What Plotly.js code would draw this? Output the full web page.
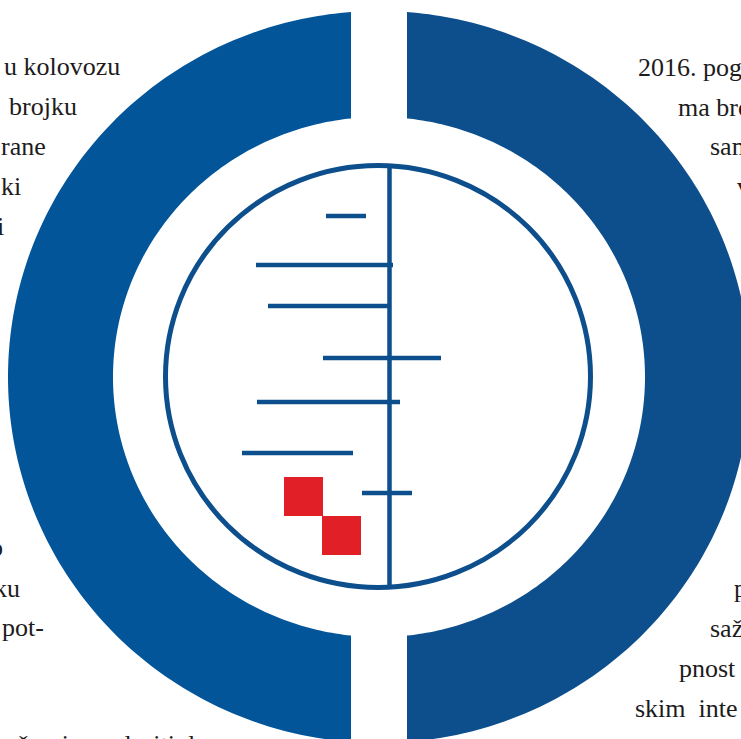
<!DOCTYPE html>
<html>
<head>
<meta charset="utf-8">
<script src="https://cdn.plot.ly/plotly-3.0.1.min.js"></script>
<style>html,body{margin:0;padding:0;background:#fff;overflow:hidden}</style>
</head>
<body>
<div id="chart" style="width:741px;height:739px"></div>
<script>
// Forest-plot rows (confidence-interval lines)
const studyRow = [216, 265, 306, 358, 402, 453, 493];
const ciLower  = [326, 256, 268, 323, 257, 242, 362];
const ciUpper  = [366, 393, 388, 441, 400, 353, 412];
// Line of no effect
const noEffectX = [389.5, 389.5];
const noEffectY = [168, 585];
// Pooled estimates (red squares)
const pooledX = [303.5, 341.5];
const pooledY = [496.5, 535.5];

// Background text fragments
const leftText   = ["u kolovozu", "brojku", "rane", "ki", "i", "o", "ku", "pot-"];
const leftEnd    = [121, 78, 47, 22, 5, 4, 21, 45];
const leftBase   = [75, 115, 155, 195, 235, 556, 597, 636];
const rightText  = ["2016. pogled", "ma broj", "sam", "vi", "p", "saž", "pnost", "skim  inte"];
const rightStart = [637, 677, 709, 736, 733, 709, 678, 634];
const rightBase  = [76, 116, 155, 195, 597, 637, 677, 717];
const bottomText = ["važno je naglasiti da"];
const bottomBase = [753.5];

const BLUE = "#0d4f8c";
const BLUE_L = "#03559a";
const RED = "#e01f26";

// CI line trace
const cx = [], cy = [];
for (let i = 0; i < studyRow.length; i++) {
  cx.push(ciLower[i], ciUpper[i], null);
  cy.push(studyRow[i], studyRow[i], null);
}
const traces = [
  {x: noEffectX, y: noEffectY, mode: "lines", line: {color: BLUE, width: 4.5}, hoverinfo: "skip"},
  {x: cx, y: cy, mode: "lines", line: {color: BLUE, width: 4.5}, hoverinfo: "skip", connectgaps: false},
  {x: pooledX, y: pooledY, mode: "markers", marker: {symbol: "square", size: 39, color: RED, line: {width: 0}}, hoverinfo: "skip"}
];

// Ring geometry (decorative)
const C = {x: 379, y: 377, Rx: 371, Ry: 366, rx: 266, ry: 260};
function halfRing(cut, left) {
  const N = 200;
  const pts = [];
  const t0 = Math.acos((cut - C.x) / C.Rx);
  const t1 = Math.acos((cut - C.x) / C.rx);
  let a0, a1, b0, b1;
  if (left) { a0 = t0; a1 = 2*Math.PI - t0; b0 = 2*Math.PI - t1; b1 = t1; }
  else { a0 = t0; a1 = -t0; b0 = -t1; b1 = t1; }
  for (let i = 0; i <= N; i++) {
    const t = a0 + (a1 - a0) * i / N;
    pts.push([C.x + C.Rx*Math.cos(t), C.y - C.Ry*Math.sin(t)]);
  }
  for (let i = 0; i <= N; i++) {
    const t = b0 + (b1 - b0) * i / N;
    pts.push([C.x + C.rx*Math.cos(t), C.y - C.ry*Math.sin(t)]);
  }
  return "M" + pts.map(p => p[0].toFixed(2) + "," + p[1].toFixed(2)).join(" L") + " Z";
}

const shapes = [
  {type: "path", xref: "x", yref: "y", path: halfRing(351, true), fillcolor: BLUE_L, line: {width: 0}, layer: "below"},
  {type: "path", xref: "x", yref: "y", path: halfRing(407, false), fillcolor: BLUE, line: {width: 0}, layer: "below"},
  {type: "circle", xref: "x", yref: "y", x0: 165.5, x1: 590.5, y0: 165.5, y1: 587.5, line: {color: BLUE, width: 5}, fillcolor: "rgba(0,0,0,0)", layer: "below"}
];

const FS = 26;
const font = {family: "Liberation Serif, DejaVu Serif, serif", size: FS, color: "#1d1b1c"};
const ann = [];
const off = 0.33 * FS;
leftText.forEach((t, i) => ann.push({x: leftEnd[i], y: leftBase[i] - off, xref: "x", yref: "y", text: t, showarrow: false, xanchor: "right", yanchor: "middle", font: font, borderpad: 0}));
rightText.forEach((t, i) => ann.push({x: rightStart[i], y: rightBase[i] - off, xref: "x", yref: "y", text: t, showarrow: false, xanchor: "left", yanchor: "middle", font: font, borderpad: 0}));
// bottom line: anchor kept inside the axis range, then shifted down so it is cut by the page edge
bottomText.forEach((t, i) => ann.push({x: 1, xshift: -9, y: 737, yshift: -(bottomBase[i] - off - 737), xref: "x", yref: "y", text: t, showarrow: false, xanchor: "left", yanchor: "middle", font: font, borderpad: 0}));

const layout = {
  width: 741, height: 739,
  margin: {l: 0, r: 0, t: 0, b: 0, pad: 0},
  paper_bgcolor: "#ffffff", plot_bgcolor: "#ffffff",
  showlegend: false,
  xaxis: {range: [0, 741], visible: false, fixedrange: true},
  yaxis: {range: [739, 0], visible: false, fixedrange: true},
  shapes: shapes,
  annotations: ann
};
Plotly.newPlot("chart", traces, layout, {staticPlot: true, displayModeBar: false});
</script>
</body>
</html>
